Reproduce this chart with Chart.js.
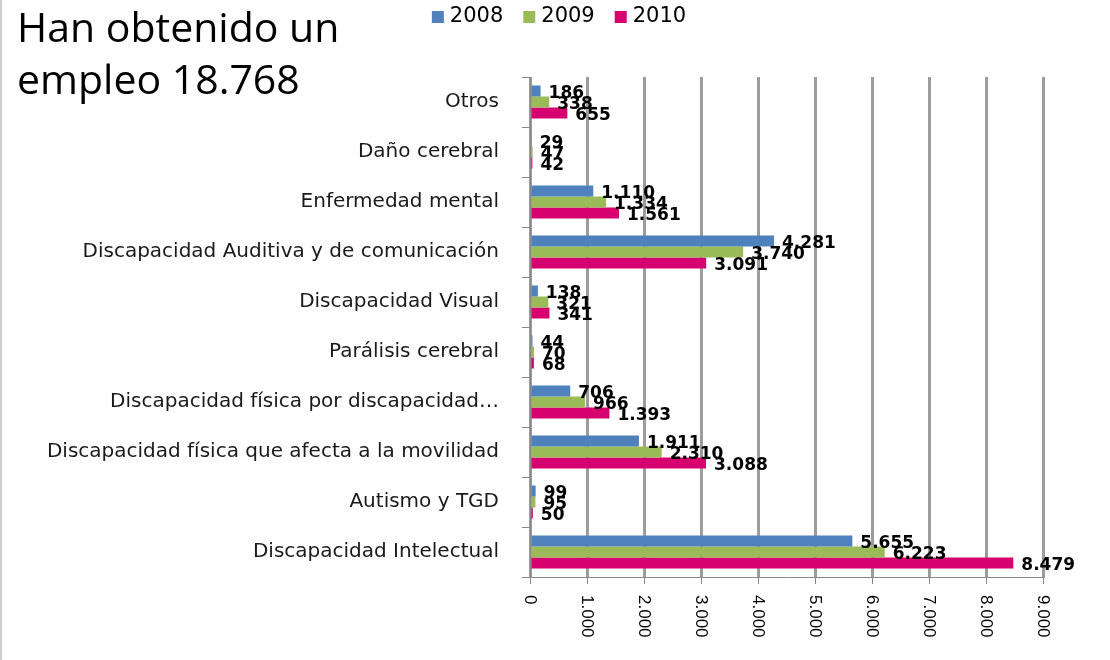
<!DOCTYPE html>
<html>
<head>
<meta charset="utf-8">
<script src="https://cdn.jsdelivr.net/npm/chart.js@4.4.1/dist/chart.umd.min.js"></script>
<style>
  html, body { margin: 0; padding: 0; background: #fff; }
  #wrap { position: relative; width: 1110px; height: 660px; overflow: hidden; background: #fff; }
  #chart { position: absolute; left: 0; top: 0; }
  #title { position: absolute; left: 17px; top: 0px; font-family: "Open Sans", sans-serif; font-size: 41px; line-height: 52px; color: #000; z-index: 2; white-space: nowrap; }
  #edge { position: absolute; left: 0; top: 0; width: 2px; height: 660px; background: #cfcfcf; z-index: 3; }
</style>
</head>
<body>
<div id="wrap">
  <div id="edge"></div>
  <div id="title">Han obtenido un<br>empleo 18.768</div>
  <canvas id="chart" width="1110" height="660"></canvas>
</div>
<script>
// ---- data ----
const categories = [
  "Otros",
  "Daño cerebral",
  "Enfermedad mental",
  "Discapacidad Auditiva y de comunicación",
  "Discapacidad Visual",
  "Parálisis cerebral",
  "Discapacidad física por discapacidad…",
  "Discapacidad física que afecta a la movilidad",
  "Autismo y TGD",
  "Discapacidad Intelectual"
];
const seriesNames = ["2008", "2009", "2010"];
const values2008 = [186, 29, 1110, 4281, 138, 44, 706, 1911, 99, 5655];
const values2009 = [338, 47, 1334, 3740, 321, 70, 966, 2310, 95, 6223];
const values2010 = [655, 42, 1561, 3091, 341, 68, 1393, 3088, 50, 8479];
const axisMin = 0;
const axisMax = 9000;
const axisStep = 1000;

const colors = ["#4F81BD", "#9BBB59", "#D6006F"];
const darkColors = ["#3A6390", "#76913F", "#9E0052"];

function fmt(v) {
  return String(v).replace(/\B(?=(\d{3})+(?!\d))/g, ".");
}

function barFill(di) {
  return function (context) {
    const el = context.element;
    if (!el || el.height === undefined || !isFinite(el.y)) return colors[di];
    const h = el.height || 10;
    const g = context.chart.ctx.createLinearGradient(0, el.y - h / 2, 0, el.y + h / 2);
    g.addColorStop(0, colors[di]);
    g.addColorStop(0.6, colors[di]);
    g.addColorStop(1, darkColors[di]);
    return g;
  };
}

const dataLabels = {
  id: "dataLabels",
  afterDatasetsDraw(chart) {
    const ctx = chart.ctx;
    ctx.save();
    ctx.font = "bold 17px 'DejaVu Sans'";
    ctx.fillStyle = "#000";
    ctx.textAlign = "left";
    ctx.textBaseline = "middle";
    chart.data.datasets.forEach((ds, di) => {
      const meta = chart.getDatasetMeta(di);
      meta.data.forEach((el, i) => {
        ctx.fillText(fmt(ds.data[i]), el.x + 8, el.y + 3);
      });
    });
    ctx.restore();
  }
};

const xLabels = {
  id: "xLabels",
  afterDraw(chart) {
    const scale = chart.scales.x;
    const ctx = chart.ctx;
    ctx.save();
    ctx.font = "17px 'Liberation Sans'";
    ctx.fillStyle = "#000";
    ctx.textAlign = "left";
    ctx.textBaseline = "middle";
    scale.ticks.forEach(t => {
      const x = scale.getPixelForValue(t.value);
      ctx.save();
      ctx.translate(x, scale.top + 18);
      ctx.rotate(Math.PI / 2);
      ctx.fillText(fmt(t.value), 0, 0);
      ctx.restore();
    });
    ctx.restore();
  }
};

const customLegend = {
  id: "customLegend",
  afterDraw(chart) {
    const ctx = chart.ctx;
    ctx.save();
    ctx.font = "21px 'DejaVu Sans'";
    ctx.textBaseline = "middle";
    ctx.textAlign = "left";
    const box = 12, gapText = 6, gapItem = 20;
    const items = chart.data.datasets.map((d, i) => ({ label: d.label, color: colors[i], w: ctx.measureText(d.label).width }));
    let total = 0;
    items.forEach((it, i) => { total += box + gapText + it.w + (i < items.length - 1 ? gapItem : 0); });
    let x = 559 - total / 2;
    const cy = 17;
    items.forEach(it => {
      ctx.fillStyle = it.color;
      ctx.fillRect(x, cy - box / 2, box, box);
      ctx.fillStyle = "#000";
      ctx.fillText(it.label, x + box + gapText, cy);
      x += box + gapText + it.w + gapItem;
    });
    ctx.restore();
  }
};

new Chart(document.getElementById("chart"), {
  type: "bar",
  data: {
    labels: categories,
    datasets: [
      { label: seriesNames[0], data: values2008, backgroundColor: barFill(0) },
      { label: seriesNames[1], data: values2009, backgroundColor: barFill(1) },
      { label: seriesNames[2], data: values2010, backgroundColor: barFill(2) }
    ]
  },
  options: {
    indexAxis: "y",
    responsive: false,
    animation: false,
    layout: { padding: { top: 77, right: 67, left: 0, bottom: 0 } },
    datasets: { bar: { categoryPercentage: 0.66, barPercentage: 1.0, borderWidth: 0 } },
    plugins: {
      legend: { display: false },
      tooltip: { enabled: false },
      title: { display: false }
    },
    scales: {
      x: {
        min: axisMin,
        max: axisMax,
        ticks: { stepSize: axisStep, autoSkip: false, color: "rgba(0,0,0,0)", minRotation: 90, maxRotation: 90 },
        grid: { color: "#9c9c9c", lineWidth: 3, drawTicks: true, tickLength: 7, tickColor: "#888", tickWidth: 1 },
        border: { display: true, color: "#888", width: 1 },
        afterFit(scale) { scale.height = 83; }
      },
      y: {
        ticks: { font: { family: "DejaVu Sans", size: 20 }, color: "#1a1a1a", padding: 23, autoSkip: false },
        grid: { offset: true, drawOnChartArea: false, tickLength: 8, color: "#888", tickColor: "#888" },
        border: { display: true, color: "#888", width: 1 },
        afterFit(scale) { scale.width = 530; }
      }
    }
  },
  plugins: [dataLabels, xLabels, customLegend]
});
</script>
</body>
</html>
